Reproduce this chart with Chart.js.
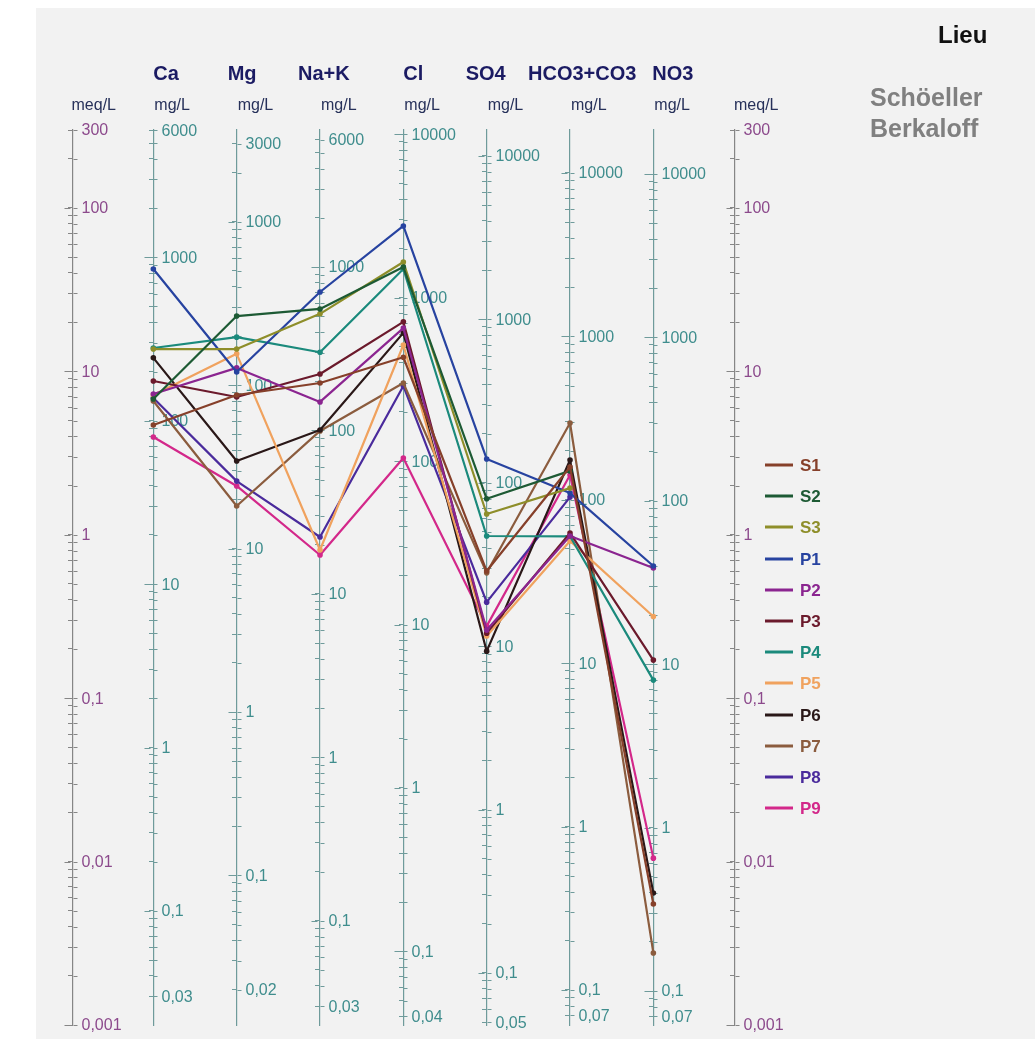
<!DOCTYPE html>
<html>
<head>
<meta charset="utf-8">
<title>Schöeller Berkaloff</title>
<script src="https://cdn.jsdelivr.net/npm/chart.js@4.4.1/dist/chart.umd.min.js"></script>
<style>
  html, body { margin: 0; padding: 0; background: #ffffff; }
  #wrap { position: relative; width: 1035px; height: 1039px; overflow: hidden;
          font-family: "Liberation Sans", Arial, Helvetica, sans-serif; }
  #panel { position: absolute; left: 36px; top: 8px; right: 0; bottom: 0; background: #f2f2f2; }
  #chart { position: absolute; left: 0; top: 0; }
  .t { position: absolute; white-space: nowrap; line-height: 1; transform: translateY(-50%); }
  .ion { font-weight: bold; font-size: 20px; color: #1b1b63; }
  .unit { font-size: 16px; color: #27315a; }
  .place { font-weight: bold; font-size: 24px; color: #111111; }
  .method { font-weight: bold; font-size: 25px; color: #808080; }
  .lg-line { position: absolute; height: 3px; width: 28px; transform: translateY(-50%); }
  .lg-text { font-weight: bold; font-size: 17px; }
</style>
</head>
<body>
<div id="wrap">
  <div id="panel"></div>
  <canvas id="chart" width="1035" height="1039"></canvas>
</div>
<script>
// ---- ions (columns of the diagram) ----
const ions = ['Ca', 'Mg', 'Na+K', 'Cl', 'SO4', 'HCO3+CO3', 'NO3'];
// equivalent weights (mg per meq) used to build each mg/L axis
const eqWeights = [20.04, 12.15, 23.0, 35.45, 48.03, 61.02, 62.0];

// ---- samples, concentrations in meq/L (Ca, Mg, Na+K, Cl, SO4, HCO3+CO3, NO3) ----
const seriesNames = ['S1', 'S2', 'S3', 'P1', 'P2', 'P3', 'P4', 'P5', 'P6', 'P7', 'P8', 'P9'];
const seriesColors = ['#86402a', '#1d5a34', '#8e8e2a', '#2743a0', '#8b2590', '#6b1a2c',
                      '#1b8a7c', '#f0a25e', '#2a1818', '#8b5c3e', '#4a2b9c', '#d3288a'];
const S1 = [4.70, 7.17, 8.49, 12.2, 0.600, 2.60, 0.0055];
const S2 = [6.78, 21.8, 24.1, 43.5, 1.66, 2.46, null];
const S3 = [13.7, 13.7, 22.5, 46.7, 1.34, 1.93, null];
const P1 = [42.3, 9.92, 30.6, 77.6, 2.91, 1.80, 0.644];
const P2 = [7.27, 10.5, 6.50, 18.4, 0.261, 0.983, 0.626];
const P3 = [8.73, 6.97, 9.64, 20.1, 0.250, 1.026, 0.171];
const P4 = [13.9, 16.2, 13.1, 42.3, 0.983, 0.979, 0.129];
const P5 = [7.17, 12.8, 0.807, 14.5, 0.240, 0.917, 0.316];
const P6 = [12.1, 2.83, 4.38, 17.2, 0.194, 2.87, 0.00642];
const P7 = [6.59, 1.50, 4.32, 8.49, 0.585, 4.83, 0.00276];
const P8 = [6.87, 2.13, 0.969, 8.14, 0.387, 1.70, null];
const P9 = [3.97, 1.99, 0.752, 2.95, 0.276, 2.32, 0.0105];
const seriesValues = [S1, S2, S3, P1, P2, P3, P4, P5, P6, P7, P8, P9];

// ---- axis range and labelled ticks ----
const meqMin = 0.001;
const meqMax = 300;
const meqLabels = [300, 100, 10, 1, 0.1, 0.01, 0.001];
const caLabels = [6000, 1000, 100, 10, 1, 0.1, 0.03];
const mgLabels = [3000, 1000, 100, 10, 1, 0.1, 0.02];
const naLabels = [6000, 1000, 100, 10, 1, 0.1, 0.03];
const clLabels = [10000, 1000, 100, 10, 1, 0.1, 0.04];
const so4Labels = [10000, 1000, 100, 10, 1, 0.1, 0.05];
const hco3Labels = [10000, 1000, 100, 10, 1, 0.1, 0.07];
const no3Labels = [10000, 1000, 100, 10, 1, 0.1, 0.07];
const ionLabels = [caLabels, mgLabels, naLabels, clLabels, so4Labels, hco3Labels, no3Labels];

// ---- styling ----
const meqAxisColor = '#868686';
const meqTextColor = '#8c4a8c';
const ionAxisColor = '#6f9b9b';
const ionTextColor = '#3f8d8d';

// horizontal slot of each vertical axis on the hidden x scale
const meqLeftPos = 0.03;
const meqRightPos = 7.98;

// 1..9 x 10^n ticks inside [min, max]
function logTicks(min, max) {
  const out = [];
  const e0 = Math.floor(Math.log10(min));
  const e1 = Math.ceil(Math.log10(max));
  for (let e = e0; e <= e1; e++) {
    for (let k = 1; k <= 9; k++) {
      const v = Number((k * Math.pow(10, e)).toPrecision(6));
      if (v >= min * 0.9999 && v <= max * 1.0001) out.push({ value: v });
    }
  }
  return out;
}
const isDecade = v => Math.abs(Math.log10(v) - Math.round(Math.log10(v))) < 1e-6;
const fmt = v => String(v).replace('.', ',');

function logAxis(min, max, pos, color) {
  return {
    type: 'logarithmic',
    axis: 'y',
    position: { x: pos },
    min: min,
    max: max,
    afterBuildTicks: scale => { scale.ticks = logTicks(scale.min, scale.max); },
    grid: { display: true, drawOnChartArea: false, drawTicks: true, tickLength: 4,
            color: color, tickColor: color, lineWidth: 1, tickWidth: 1 },
    border: { display: true, color: color, width: 1.2 },
    ticks: { display: false, autoSkip: false }
  };
}

// vertical axes: meq/L on both sides, one mg/L axis per ion
const axisDefs = [
  { id: 'meqL', pos: meqLeftPos, factor: 1, labels: meqLabels, line: meqAxisColor, text: meqTextColor },
];
ions.forEach((ion, i) => {
  axisDefs.push({ id: 'ion' + i, pos: i + 1, factor: eqWeights[i], labels: ionLabels[i],
                  line: ionAxisColor, text: ionTextColor });
});
axisDefs.push({ id: 'meqR', pos: meqRightPos, factor: 1, labels: meqLabels, line: meqAxisColor, text: meqTextColor });

const scales = { x: { type: 'linear', axis: 'x', position: 'bottom', min: 0, max: 8, display: false } };
axisDefs.forEach(d => {
  scales[d.id] = logAxis(meqMin * d.factor, meqMax * d.factor, d.pos, d.line);
});

const datasets = seriesNames.map((name, s) => ({
  label: name,
  data: seriesValues[s].map((v, i) => (v == null ? null : { x: i + 1, y: v })).filter(p => p),
  xAxisID: 'x',
  yAxisID: 'meqL',
  borderColor: seriesColors[s],
  backgroundColor: seriesColors[s],
  borderWidth: 2.2,
  pointRadius: 2.8,
  pointBorderWidth: 0,
  pointBackgroundColor: seriesColors[s],
  tension: 0,
  fill: false
}));

// right half of each tick, longer decade ticks and the value labels of every vertical axis
const axisDecor = {
  id: 'axisDecor',
  beforeDatasetsDraw(chart) {
    const ctx = chart.ctx;
    const xs = chart.scales.x;
    ctx.save();
    axisDefs.forEach(d => {
      const s = chart.scales[d.id];
      const x = Math.round(xs.getPixelForValue(d.pos)) + 0.5;
      ctx.strokeStyle = d.line;
      ctx.lineWidth = 1;
      ctx.beginPath();
      s.ticks.forEach(t => {
        const y = Math.round(s.getPixelForValue(t.value)) + 0.5;
        ctx.moveTo(x, y);
        ctx.lineTo(x + 4, y);
        if (isDecade(t.value)) {
          ctx.moveTo(x - 9, y);
          ctx.lineTo(x - 3, y);
        }
      });
      ctx.stroke();
      ctx.fillStyle = d.text;
      ctx.font = '16px "Liberation Sans", Arial, sans-serif';
      ctx.textAlign = 'left';
      ctx.textBaseline = 'middle';
      d.labels.forEach(v => ctx.fillText(fmt(v), x + 8, s.getPixelForValue(v) + 1));
    });
    ctx.restore();
  }
};

const chart = new Chart(document.getElementById('chart'), {
  type: 'line',
  data: { datasets },
  options: {
    responsive: false,
    animation: false,
    devicePixelRatio: 1,
    layout: { padding: { left: 70, right: 298.3, top: 130, bottom: 14 } },
    scales,
    plugins: { legend: { display: false }, tooltip: { enabled: false }, title: { display: false } },
    elements: { line: { borderCapStyle: 'round', borderJoinStyle: 'round' } }
  },
  plugins: [axisDecor]
});

// ---- text around the plot: ion names, units, titles, legend ----
const wrap = document.getElementById('wrap');
function addText(cls, text, left, y, color) {
  const el = document.createElement('div');
  el.className = 't ' + cls;
  el.textContent = text;
  el.style.left = left + 'px';
  el.style.top = y + 'px';
  if (color) el.style.color = color;
  wrap.appendChild(el);
  return el;
}
const xs = chart.scales.x;
const ionHeaderShift = [0, -9, -22, 0, -21, -42, -1];
ions.forEach((ion, i) => {
  const ax = xs.getPixelForValue(i + 1);
  addText('ion', ion, ax + ionHeaderShift[i], 73);
  addText('unit', 'mg/L', ax + 1, 105);
});
addText('unit', 'meq/L', xs.getPixelForValue(meqLeftPos) - 1, 105);
addText('unit', 'meq/L', xs.getPixelForValue(meqRightPos) - 1, 105);
addText('place', 'Lieu', 938, 35);
addText('method', 'Schöeller', 870, 97);
addText('method', 'Berkaloff', 870, 128);

seriesNames.forEach((name, s) => {
  const y = 465 + 31.2 * s;
  const ln = document.createElement('div');
  ln.className = 'lg-line';
  ln.style.left = '765px';
  ln.style.top = y + 'px';
  ln.style.background = seriesColors[s];
  wrap.appendChild(ln);
  addText('lg-text', name, 800, y, seriesColors[s]);
});
</script>
</body>
</html>
